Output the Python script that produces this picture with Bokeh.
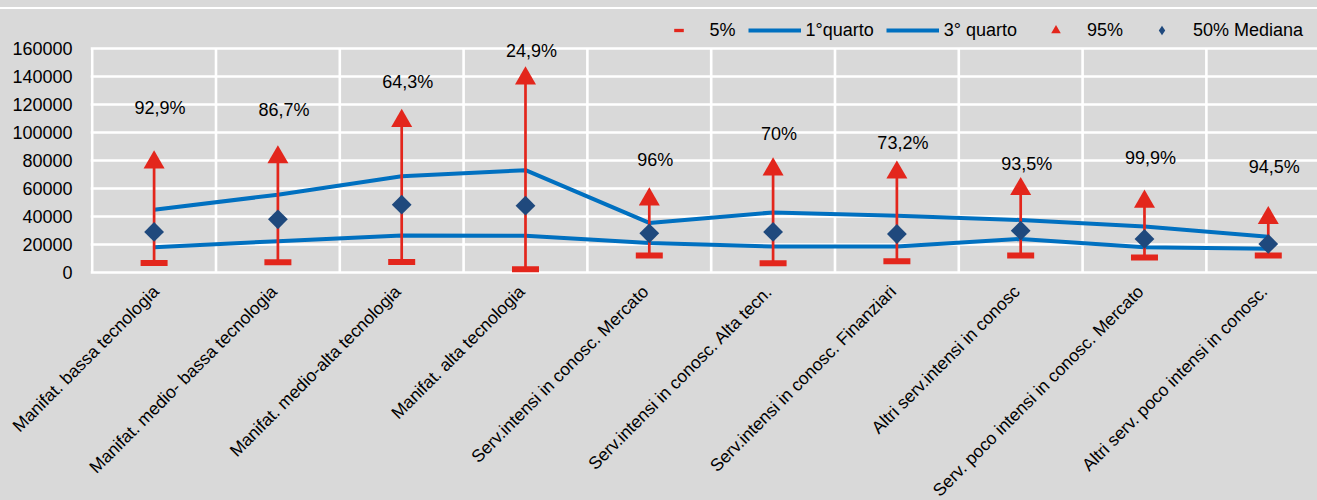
import math
from bokeh.plotting import figure
from bokeh.models import (ColumnDataSource, FixedTicker, Legend, LegendItem,
                          Range1d)
from bokeh.embed import file_html
from bokeh.resources import INLINE
from bokeh.core.properties import value

# ---------------- data ----------------
categories = [
    "Manifat. bassa tecnologia",
    "Manifat. medio- bassa tecnologia",
    "Manifat. medio-alta tecnologia",
    "Manifat. alta tecnologia",
    "Serv.intensi in conosc. Mercato",
    "Serv.intensi in conosc. Alta tecn.",
    "Serv.intensi in conosc. Finanziari",
    "Altri serv.intensi in conosc",
    "Serv. poco intensi in conosc. Mercato",
    "Altri serv. poco intensi in conosc.",
]
p5 = [6800, 7300, 7450, 2350, 12100, 6600, 8000, 12100, 10700, 12100]
q1 = [18100, 22400, 26400, 26300, 21100, 18500, 18500, 24000, 18000, 16900]
median = [29000, 38000, 48450, 47700, 28000, 29000, 27500, 29900, 24000, 20400]
q3 = [44900, 55550, 68800, 73100, 35400, 42900, 40600, 37500, 32800, 25600]
p95 = [78700, 82300, 108300, 138600, 52200, 73600, 71400, 59600, 50600, 38900]
share_labels = ["92,9%", "86,7%", "64,3%", "24,9%", "96%", "70%", "73,2%",
                "93,5%", "99,9%", "94,5%"]
share_label_y = [117700, 116100, 136200, 158100, 80200, 99200, 92800,
                 77400, 82100, 75000]
y_ticks = [0, 20000, 40000, 60000, 80000, 100000, 120000, 140000, 160000]
y_tick_labels = ["0", "20000", "40000", "60000", "80000", "100000",
                 "120000", "140000", "160000"]

# ---------------- style ----------------
BG = "#d9d9d9"
RED = "#e3261c"
BLUE = "#0070c0"
DARK = "#1f497d"
FONT = "Liberation Sans"
FS = "18px"
XFS = "17.5px"
LABEL_SHIFT = -0.032   # small horizontal nudge of the rotated category labels

n = len(categories)
xs = [i + 0.5 for i in range(n)]
bounds = list(range(n + 1))
src = ColumnDataSource(dict(x=xs, p5=p5, q1=q1, med=median, q3=q3, p95=p95,
                            lab=share_labels, laby=share_label_y))
grid_src = ColumnDataSource(dict(x=bounds,
                                 y0=[y_ticks[0]] * len(bounds),
                                 y1=[y_ticks[-1]] * len(bounds)))

# frame: 1227 x 262 px; band above 160000 hosts the legend
p = figure(width=1309, height=516, title=None,
           x_range=Range1d(-0.01373, 9.8976),
           y_range=Range1d(-1428.6, 185714),
           output_backend="svg", toolbar_location=None,
           min_border_left=82, min_border_right=0, min_border_top=4,
           min_border_bottom=250)
p.background_fill_color = BG
p.border_fill_color = BG
p.border_fill_alpha = 0.0
p.outline_line_color = None

# grids
p.xgrid.visible = False
p.ygrid.ticker = FixedTicker(ticks=y_ticks)
p.ygrid.grid_line_color = "white"
p.ygrid.grid_line_width = 2.6
p.segment(x0="x", y0="y0", x1="x", y1="y1", source=grid_src,
          line_color="white", line_width=2.6)

# y axis
ya = p.yaxis[0]
ya.ticker = FixedTicker(ticks=y_ticks)
ya.major_label_overrides = {t: l for t, l in zip(y_ticks, y_tick_labels)}
ya.axis_line_color = None
ya.major_tick_line_color = None
ya.minor_tick_line_color = None
ya.major_tick_out = 0
ya.major_tick_in = 0
ya.major_label_standoff = 18
ya.major_label_text_font = FONT
ya.major_label_text_font_size = FS
ya.major_label_text_color = "black"

# x axis (category labels, rotated)
xt = [x + LABEL_SHIFT for x in xs]
xa = p.xaxis[0]
xa.ticker = FixedTicker(ticks=xt)
xa.major_label_overrides = {x: c for x, c in zip(xt, categories)}
xa.major_label_orientation = math.pi / 4
xa.axis_line_color = None
xa.major_tick_line_color = None
xa.minor_tick_line_color = None
xa.major_tick_out = 0
xa.major_tick_in = 0
xa.major_label_standoff = 14
xa.major_label_text_font = FONT
xa.major_label_text_font_size = XFS
xa.major_label_text_color = "black"

# glyphs
l_q1 = p.line("x", "q1", source=src, line_color=BLUE, line_width=4)
l_q3 = p.line("x", "q3", source=src, line_color=BLUE, line_width=4)
p.segment(x0="x", y0="p5", x1="x", y1="p95", source=src,
          line_color=RED, line_width=2.7)
p.scatter("x", "p5", source=src, marker="dash", size=27,
          line_color=RED, line_width=6)
r_p95 = p.scatter("x", "p95", source=src, marker="triangle", size=21,
                  fill_color=RED, line_color=None)
p.scatter("x", "med", source=src, marker="square", angle=math.pi / 4,
          size=14, fill_color=DARK, line_color=None)

# legend proxies (zero size in the plot, legend draws its own marker size)
leg_p5 = p.scatter("x", "p5", source=src, marker="dash", size=0,
                   line_color=RED, line_width=3.3)
leg_med = p.scatter("x", "med", source=src, marker="diamond", size=0,
                    fill_color=DARK, line_color=None)

p.text(x="x", y="laby", text="lab", source=src, text_align="center",
       text_baseline="middle", x_offset=6, text_font=value(FONT),
       text_font_size=FS, text_color="black")

legend = Legend(items=[
    LegendItem(label="5%", renderers=[leg_p5]),
    LegendItem(label="1°quarto", renderers=[l_q1]),
    LegendItem(label="3° quarto", renderers=[l_q3]),
    LegendItem(label="95%", renderers=[r_p95]),
    LegendItem(label="50% Mediana", renderers=[leg_med]),
], orientation="horizontal", location=(561.5, 232),
    glyph_width=53, glyph_height=24, label_height=24, label_standoff=5,
    spacing=12, padding=0, margin=0, border_line_color=None,
    background_fill_alpha=0.0, label_text_font=FONT,
    label_text_font_size=FS, label_text_color="black")
p.add_layout(legend, "center")

html = file_html(p, INLINE)
css = ("<style>html{overflow:hidden;background:linear-gradient(to bottom,"
       "#d9d9d9 0px,#d9d9d9 7px,#ffffff 7px,#ffffff 9.5px,#d9d9d9 9.5px) "
       "#d9d9d9 no-repeat;}body{margin:8px 0 0 8px;}</style>")
html = html.replace("</head>", css + "</head>", 1)
open("out.html", "w").write(html)
